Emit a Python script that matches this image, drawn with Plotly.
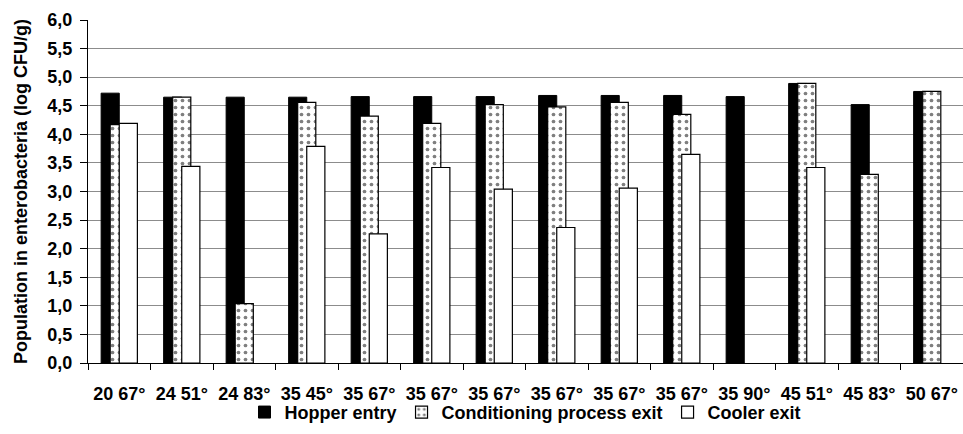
import plotly.graph_objects as go

categories = ["20 67°", "24 51°", "24 83°", "35 45°", "35 67°", "35 67°", "35 67°",
              "35 67°", "35 67°", "35 67°", "35 90°", "45 51°", "45 83°", "50 67°"]
hopper_entry = [4.72, 4.65, 4.65, 4.65, 4.66, 4.66, 4.66, 4.68, 4.68, 4.68, 4.66, 4.89, 4.52, 4.75]
conditioning_exit = [4.17, 4.65, 1.04, 4.56, 4.32, 4.19, 4.52, 4.48, 4.56, 4.35, None, 4.89, 3.30, 4.75]
cooler_exit = [4.19, 3.44, None, 3.79, 2.26, 3.42, 3.04, 2.37, 3.06, 3.65, None, 3.42, None, None]
y_ticks = [0.0, 0.5, 1.0, 1.5, 2.0, 2.5, 3.0, 3.5, 4.0, 4.5, 5.0, 5.5, 6.0]
y_labels = [f"{v:.1f}".replace(".", ",") for v in y_ticks]

xpos = list(range(len(categories)))
W = 0.29
FONT = "Liberation Sans, Arial, sans-serif"

fig = go.Figure()
fig.add_trace(go.Bar(
    x=xpos, y=hopper_entry, name="<b>Hopper entry</b>",
    width=W, offset=-W,
    marker=dict(color="black", line=dict(color="black", width=1)),
))
fig.add_trace(go.Bar(
    x=xpos, y=conditioning_exit, name="<b>Conditioning process exit</b>",
    width=W, offset=-W / 2,
    marker=dict(color="white", line=dict(color="black", width=1.2),
                pattern=dict(shape=".", fgcolor="black", bgcolor="white",
                             size=7, solidity=0.22)),
))
fig.add_trace(go.Bar(
    x=xpos, y=cooler_exit, name="<b>Cooler exit</b>",
    width=W, offset=0,
    marker=dict(color="white", line=dict(color="black", width=1.2)),
))

fig.update_layout(
    width=963, height=434,
    margin=dict(l=88, r=0, t=20, b=71),
    barmode="overlay",
    plot_bgcolor="white", paper_bgcolor="white",
    font=dict(family=FONT, size=18, color="black"),
    showlegend=True,
    legend=dict(orientation="h", x=0.5, xanchor="center", y=-0.09, yanchor="top",
                font=dict(family=FONT, size=18, color="black"),
                itemwidth=30, tracegroupgap=0, bgcolor="rgba(0,0,0,0)"),
    xaxis=dict(
        range=[-0.5, len(categories) - 0.5],
        tickmode="array", tickvals=xpos,
        ticktext=[f"<b>{c}</b>" for c in categories],
        ticks="", ticklabelstandoff=14,
        showline=True, linecolor="black", linewidth=1,
        showgrid=False, zeroline=False,
        minor=dict(tick0=-0.5, dtick=1, ticks="outside", ticklen=6,
                   tickcolor="black", tickwidth=1, showgrid=False),
        tickfont=dict(family=FONT, size=18, color="black"),
        automargin=False,
    ),
    yaxis=dict(
        range=[0, 6], tickmode="array", tickvals=y_ticks,
        ticktext=[f"<b>{t}</b>" for t in y_labels],
        ticks="outside", ticklen=7, tickcolor="black", tickwidth=1,
        ticklabelstandoff=4,
        showline=True, linecolor="black", linewidth=1.3,
        showgrid=True, gridcolor="#8c8c8c", gridwidth=1,
        zeroline=False,
        tickfont=dict(family=FONT, size=18, color="black"),
        title=dict(text="<b>Population in enterobacteria (log CFU/g)</b>",
                   font=dict(family=FONT, size=18, color="black"), standoff=14),
        automargin=False,
    ),
)

fig.write_html("out.html", config={"displayModeBar": False},
               post_script="document.body.style.margin='0';document.body.style.overflow='hidden';")
